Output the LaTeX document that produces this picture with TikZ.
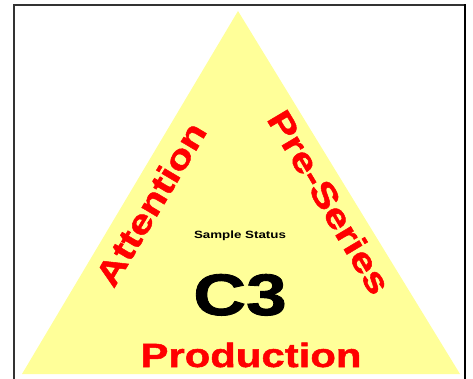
\documentclass[tikz,border=0pt]{standalone}
\usepackage{fontspec}
\newfontfamily\wide{Liberation Sans}[FakeStretch=1.25, FakeBold=1.5]
\newfontfamily\widesmall{Liberation Sans}[FakeStretch=1.27]
\definecolor{triyellow}{RGB}{255,255,153}
\definecolor{labelred}{RGB}{255,0,0}
\begin{document}
\begin{tikzpicture}[x=1pt,y=-1pt,
  side/.style={inner sep=0pt, text=labelred, font=\wide\bfseries\fontsize{33.5}{36}\selectfont},
  centertext/.style={inner sep=0pt, text=black, anchor=base},
  frameline/.style={line width=2pt, draw=black!80}]
\useasboundingbox (0,0) rectangle (473,379);
\fill[triyellow] (22,374) -- (238,11) -- (460,374) -- cycle;
\draw[frameline] (14,385) -- (14,5.5) -- (465,5.5);
\draw[line width=2.5pt, black] (465,4.5) -- (465,385);
\node[side, rotate=59.2] (att) at (150.5,204) {Attention};
\node[side, rotate=-59.2] (pre) at (329.5,202) {Pre-Series};
\node[side, anchor=base] (prod) at (251,367) {Production};
\node[centertext, font=\widesmall\bfseries\fontsize{10.5}{12}\selectfont] (status) at (240,238.3) {Sample Status};
\node[centertext, font=\wide\bfseries\fontsize{58.5}{60}\selectfont] (c3) at (240,315) {C3};
\end{tikzpicture}
\end{document}
